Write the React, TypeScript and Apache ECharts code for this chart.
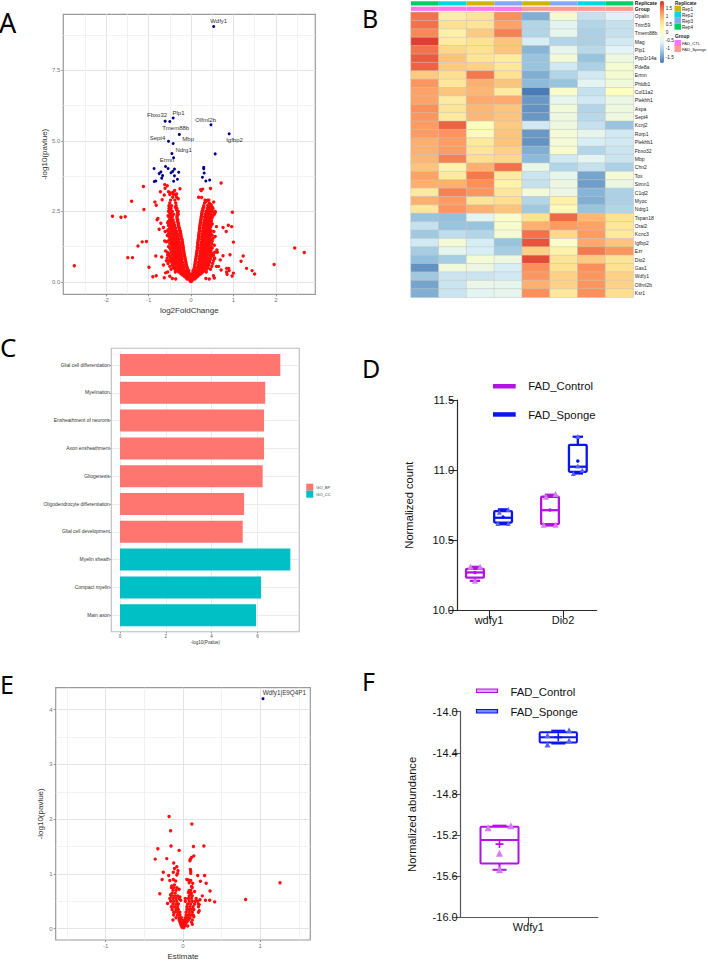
import React, { useEffect, useRef } from "react";
import * as echarts from "echarts";

const FONT = "Liberation Sans";

// ---------- Panel A: volcano ----------
const A_BLUE: [string, number, number][] = [
  ["Wdfy1", 0.535, 9.06], ["Igfbp2", 0.9, 5.25], ["Olfml2b", 0.47, 5.57], ["", 0.57, 4.54],
  ["Plp1", -0.42, 5.81], ["Fbxo32", -0.61, 5.7], ["", -0.5, 5.69], ["Tmem88b", -0.275, 5.23],
  ["Sept4", -0.53, 4.99], ["Mbp", -0.42, 4.91], ["Ndrg1", -0.45, 4.55], ["Ermn", -0.41, 4.4],
  ["", -0.87, 4.02], ["", -0.6, 4.09], ["", -0.54, 4.02], ["", -0.39, 4.0], ["", -0.43, 3.92],
  ["", -0.47, 3.87], ["", -0.29, 3.89], ["", -0.71, 3.9], ["", -0.75, 3.84], ["", -0.67, 3.77],
  ["", -0.69, 3.68], ["", -0.39, 3.76], ["", -0.32, 3.64], ["", -0.41, 3.57], ["", -0.83, 3.58],
  ["", -0.865, 3.56], ["", 0.3, 4.06], ["", 0.3, 4.01], ["", 0.31, 3.86], ["", 0.27, 3.71],
  ["", 0.35, 3.58], ["", 0.44, 3.61],
];
const A_LABEL_OFFSETS: Record<string, [number, number]> = {
  Wdfy1: [5, -5.3], Plp1: [5.3, -5.3], Fbxo32: [-8, -5.7], Olfml2b: [-5.3, -5], Tmem88b: [-3.7, -6.7],
  Sept4: [-11, -3.3], Mbp: [15, -4], Ndrg1: [11.7, -3.7], Ermn: [-6.7, 1.7], Igfbp2: [5.3, 6.3],
};
const A_RED_SPARSE: [number, number][] = [
  [-2.75, 0.57], [-1.85, 2.33], [-1.65, 2.29], [-1.55, 2.31], [-1.4, 2.86], [-1.12, 3.38], [-1.11, 2.57],
  [-1.25, 1.27], [-1.15, 1.42], [-1.05, 1.43], [-1.49, 0.86], [-1.38, 0.86], [-0.99, 0.52], [-0.9, 0.18],
  [-0.82, 0.22], [-0.83, 0.92], [-0.69, 0.88], [-0.65, 0.6], [-0.63, 0.15], [-0.85, 2.83], [-0.82, 2.72],
  [-0.8, 2.2], [-0.78, 2.25], [-0.71, 2.08], [-0.65, 1.93], [-0.75, 1.87], [-0.61, 1.79], [-0.72, 3.2],
  [-0.62, 3.45], [-0.56, 3.41], [-0.61, 3.32], [-0.68, 2.91], [-0.63, 3.08], [-0.53, 3.2], [-0.42, 3.18],
  [-0.48, 3.15], [-0.385, 3.24], [-0.26, 3.3], [-0.6, 1.1], [-0.62, 1.45], [-0.58, 1.42], [-0.55, 0.35],
  [-0.5, 0.2], [-0.44, 0.12], [-0.36, 0.1], [-0.58, 0.75], [-0.6, 0.32], [-0.3, 2.95], [-0.34, 3.12],
  [0.71, 3.51], [0.46, 3.31], [0.23, 3.27], [0.275, 3.29], [0.245, 3.24], [0.18, 3.0], [0.25, 2.99],
  [0.35, 2.85], [0.535, 2.83], [0.975, 2.47], [0.57, 2.46], [0.6, 1.96], [0.88, 2.01], [0.96, 1.96],
  [0.755, 1.93], [0.83, 1.79], [0.54, 1.79], [0.57, 1.61], [1.0, 1.41], [0.4, 1.43], [0.61, 1.13],
  [0.62, 1.05], [0.755, 0.93], [0.92, 0.96], [0.56, 0.84], [0.69, 0.78], [1.23, 0.92], [1.18, 0.73],
  [1.31, 0.48], [1.44, 0.4], [1.5, 0.28], [1.96, 0.62], [2.445, 1.2], [2.67, 1.04], [1.0, 0.31],
  [0.97, 0.21], [0.84, 0.48], [0.89, 0.48], [0.84, 0.35], [0.9, 0.4], [0.85, 0.27], [0.71, 0.42],
  [0.53, 0.22], [0.6, 0.55], [0.65, 0.55], [0.55, 0.14], [0.43, 0.1], [0.35, 0.12], [0.55, 1.3],
  [0.5, 2.6], [0.47, 2.75], [0.42, 2.9], [0.4, 2.72],
];
// rows of the dense V: first number is -log10(p), the others are fold changes at that height
const A_RED_LEFT_ROWS: number[][] = [
  [0.03, -0.01, -0.02, 0.01, 0.02], [0.1, -0.02, -0.05, -0.09], [0.2, -0.03, -0.07, -0.11, -0.16],
  [0.3, -0.04, -0.08, -0.13, -0.18, -0.24], [0.4, -0.05, -0.1, -0.15, -0.2, -0.26, -0.32],
  [0.5, -0.09, -0.16, -0.22, -0.28, -0.34, -0.42], [0.6, -0.11, -0.18, -0.24, -0.3, -0.36, -0.44],
  [0.7, -0.12, -0.2, -0.26, -0.32, -0.38, -0.46], [0.8, -0.14, -0.21, -0.27, -0.33, -0.39, -0.48],
  [0.9, -0.15, -0.22, -0.28, -0.34, -0.4, -0.5], [1.0, -0.16, -0.23, -0.29, -0.35, -0.41, -0.52],
  [1.1, -0.17, -0.24, -0.3, -0.36, -0.42], [1.2, -0.18, -0.25, -0.31, -0.37, -0.44, -0.5],
  [1.3, -0.19, -0.26, -0.32, -0.38, -0.46], [1.4, -0.2, -0.27, -0.33, -0.39, -0.47],
  [1.5, -0.21, -0.29, -0.35, -0.41, -0.5], [1.6, -0.23, -0.3, -0.36, -0.42, -0.52],
  [1.7, -0.24, -0.31, -0.37, -0.45, -0.53], [1.8, -0.25, -0.33, -0.39, -0.47, -0.55],
  [1.9, -0.27, -0.36, -0.44, -0.5], [2.0, -0.29, -0.38, -0.46, -0.53],
  [2.1, -0.3, -0.4, -0.48, -0.55], [2.2, -0.31, -0.42, -0.5], [2.3, -0.33, -0.44, -0.52],
  [2.4, -0.3, -0.41, -0.5], [2.5, -0.3, -0.44, -0.53], [2.6, -0.33, -0.47, -0.52],
  [2.7, -0.35, -0.46, -0.52], [2.8, -0.36, -0.5], [2.9, -0.38, -0.48], [3.0, -0.34, -0.43],
  [3.1, -0.36, -0.41, -0.5],
  [0.15, -0.03, -0.07, -0.12], [0.25, -0.04, -0.09, -0.15, -0.21], [0.35, -0.06, -0.11, -0.17, -0.23, -0.29, -0.37],
  [0.45, -0.08, -0.18, -0.24, -0.3, -0.38, -0.47], [0.55, -0.1, -0.2, -0.27, -0.33, -0.39, -0.5],
  [0.65, -0.12, -0.22, -0.29, -0.35, -0.42, -0.54], [0.75, -0.13, -0.23, -0.3, -0.36, -0.43, -0.52],
  [0.85, -0.14, -0.25, -0.31, -0.37, -0.45, -0.56], [0.95, -0.16, -0.26, -0.32, -0.38, -0.45, -0.55],
  [1.05, -0.17, -0.27, -0.33, -0.39, -0.47, -0.56], [1.15, -0.18, -0.27, -0.33, -0.39, -0.48],
  [1.25, -0.19, -0.28, -0.34, -0.41, -0.53], [1.35, -0.2, -0.29, -0.35, -0.43, -0.5],
  [1.45, -0.21, -0.3, -0.37, -0.44, -0.54], [1.55, -0.23, -0.32, -0.38, -0.46],
  [1.65, -0.24, -0.34, -0.4, -0.48, -0.56], [1.75, -0.25, -0.35, -0.42, -0.5],
  [1.85, -0.27, -0.38, -0.46, -0.54], [1.95, -0.29, -0.41, -0.48], [2.05, -0.3, -0.43, -0.5],
  [2.15, -0.32, -0.45, -0.53], [2.25, -0.33, -0.47], [2.35, -0.33, -0.46, -0.54],
  [2.45, -0.32, -0.48], [2.55, -0.34, -0.5], [2.65, -0.37, -0.5],
];
const A_RED_RIGHT_ROWS: number[][] = [
  [0.1, 0.02, 0.05, 0.09], [0.2, 0.03, 0.07, 0.11, 0.16], [0.3, 0.04, 0.08, 0.13, 0.18, 0.24],
  [0.4, 0.05, 0.09, 0.14, 0.19, 0.25, 0.31], [0.5, 0.08, 0.15, 0.21, 0.27, 0.33, 0.4],
  [0.6, 0.09, 0.17, 0.23, 0.29, 0.35, 0.42], [0.7, 0.1, 0.18, 0.24, 0.3, 0.36, 0.44],
  [0.8, 0.11, 0.19, 0.25, 0.31, 0.37, 0.46], [0.9, 0.12, 0.2, 0.26, 0.32, 0.38, 0.48],
  [1.0, 0.13, 0.21, 0.27, 0.33, 0.39, 0.5], [1.1, 0.14, 0.22, 0.28, 0.34, 0.4, 0.47],
  [1.2, 0.15, 0.22, 0.28, 0.34, 0.41, 0.5], [1.3, 0.16, 0.23, 0.29, 0.35, 0.42],
  [1.4, 0.16, 0.24, 0.3, 0.36, 0.44], [1.5, 0.17, 0.25, 0.31, 0.37, 0.46],
  [1.6, 0.18, 0.25, 0.31, 0.38, 0.45], [1.7, 0.19, 0.26, 0.32, 0.38, 0.47],
  [1.8, 0.2, 0.27, 0.33, 0.39, 0.48], [1.9, 0.2, 0.28, 0.34, 0.41],
  [2.0, 0.21, 0.29, 0.35, 0.42, 0.47], [2.1, 0.22, 0.3, 0.37, 0.44],
  [2.2, 0.23, 0.31, 0.38, 0.45], [2.3, 0.24, 0.32, 0.39, 0.46, 0.5],
  [2.4, 0.25, 0.33, 0.4, 0.47, 0.55], [2.5, 0.26, 0.35, 0.42, 0.5, 0.57],
  [2.6, 0.28, 0.38, 0.45, 0.52], [2.7, 0.3, 0.4, 0.48], [2.8, 0.32, 0.43], [2.9, 0.33, 0.39],
  [0.15, 0.03, 0.06, 0.12], [0.25, 0.04, 0.09, 0.15, 0.2], [0.35, 0.05, 0.11, 0.17, 0.22, 0.28, 0.36],
  [0.45, 0.07, 0.17, 0.23, 0.3, 0.37, 0.46], [0.55, 0.09, 0.19, 0.25, 0.32, 0.38, 0.49],
  [0.65, 0.1, 0.2, 0.27, 0.33, 0.4, 0.51], [0.75, 0.11, 0.21, 0.28, 0.34, 0.41, 0.53],
  [0.85, 0.12, 0.22, 0.29, 0.35, 0.43, 0.55], [0.95, 0.13, 0.23, 0.3, 0.36, 0.44, 0.53],
  [1.05, 0.14, 0.24, 0.31, 0.37, 0.45, 0.56], [1.15, 0.15, 0.25, 0.31, 0.38, 0.46],
  [1.25, 0.15, 0.26, 0.32, 0.39, 0.47], [1.35, 0.16, 0.27, 0.33, 0.4, 0.49],
  [1.45, 0.17, 0.28, 0.34, 0.41, 0.5], [1.55, 0.18, 0.28, 0.35, 0.42, 0.52],
  [1.65, 0.18, 0.29, 0.35, 0.42, 0.5], [1.75, 0.19, 0.3, 0.36, 0.44],
  [1.85, 0.2, 0.31, 0.38, 0.45], [1.95, 0.21, 0.32, 0.39, 0.46], [2.05, 0.22, 0.33, 0.4, 0.5],
  [2.15, 0.23, 0.34, 0.41, 0.48], [2.25, 0.24, 0.35, 0.42, 0.49], [2.35, 0.25, 0.37, 0.43, 0.52],
  [2.45, 0.26, 0.38, 0.45, 0.54], [2.55, 0.28, 0.4, 0.48], [2.65, 0.3, 0.43, 0.5],
];

// ---------- Panel B: heatmap ----------
const B_GENES = ["Opalin", "Trim59", "Tmem88b", "Mag", "Plp1", "Ppp1r14a", "Pde8a", "Ermn", "Phldb1", "Col11a2", "Plekhh1", "Aspa", "Sept4", "Kcnj2", "Rorp1", "Plekhb1", "Fbxo32", "Mbp", "Chn2", "Tox", "Stmn1", "C1ql2", "Myoc", "Ndrg1", "Tspan18", "Orai2", "Kcnc3", "Igfbp2", "Ezr", "Dio2", "Gas1", "Wdfy1", "Olfml2b", "Ksr1"];
const B_VALUES: number[][] = [
  [1.45, 0.35, 0.55, 1.25, -1.4, -0.2, -0.85, -0.65],
  [1.45, 0.6, 0.55, 1.1, -1.0, -0.55, -1.0, -0.85],
  [1.3, 0.3, 0.8, 1.35, -1.0, -0.5, -1.05, -0.85],
  [1.8, 0.4, 0.6, 0.85, -0.7, -1.0, -1.05, -0.75],
  [1.45, 0.7, 0.6, 0.85, -1.35, -0.5, -0.95, -0.6],
  [1.6, 0.85, 0.55, 0.4, -1.2, -0.25, -1.2, -0.35],
  [1.55, 0.8, 0.75, 0.5, -1.2, -0.75, -1.05, -0.2],
  [0.8, 0.65, 1.4, 0.6, -1.4, -1.0, -0.75, -0.2],
  [1.2, 0.5, 1.0, 0.85, -1.3, -1.2, -0.55, -0.3],
  [1.1, 0.85, 0.95, 0.4, -1.85, -0.15, -0.85, 0.0],
  [1.1, 0.4, 1.05, 1.05, -1.6, -0.5, -0.75, -0.4],
  [1.25, 0.55, 0.95, 0.85, -1.65, -0.3, -1.0, -0.35],
  [1.2, 0.45, 0.95, 0.85, -1.6, -0.35, -0.95, -0.35],
  [1.15, 1.55, 0.05, 0.8, -0.75, -0.35, -0.85, -1.2],
  [1.15, 1.2, 0.1, 0.85, -1.6, -0.25, -0.5, -0.75],
  [1.0, 1.15, 0.45, 0.85, -1.65, -0.25, -0.7, -0.75],
  [1.0, 1.15, 0.55, 0.75, -1.4, -0.15, -1.0, -0.8],
  [0.95, 1.35, 0.65, 0.7, -1.3, -0.75, -0.55, -0.8],
  [0.85, 0.25, 1.0, 1.45, -0.45, -1.0, -0.85, -1.05],
  [1.1, 0.45, 1.4, 0.4, -0.8, -0.5, -1.5, -0.25],
  [1.0, 1.0, 1.25, 0.25, -0.85, -0.4, -1.55, -0.4],
  [0.45, 1.35, 1.2, 0.5, -0.25, -0.4, -1.35, -1.05],
  [1.0, 1.15, 0.55, 0.65, -1.0, 0.3, -1.4, -1.05],
  [0.5, 1.2, 1.0, 0.85, -1.15, 0.1, -1.2, -1.0],
  [-1.2, -1.25, -0.55, -0.1, 0.6, 1.5, 0.95, 0.6],
  [-0.85, -1.2, -1.2, -0.15, 1.0, 1.15, 1.1, 0.5],
  [-1.15, -0.9, -1.0, -0.25, 1.45, 0.7, 1.15, 0.45],
  [-0.75, -0.25, -0.7, -1.2, 1.65, -0.1, 1.05, 0.85],
  [-1.1, -0.5, -0.7, -1.1, 0.75, 0.25, 1.4, 1.2],
  [-1.25, -1.1, -0.25, -0.35, 1.7, 0.55, 0.8, 0.55],
  [-1.65, -0.3, -0.4, -0.7, 1.25, 0.6, 1.25, 0.6],
  [-1.15, -0.8, -0.8, -0.75, 1.2, 0.75, 1.2, 0.75],
  [-1.5, -0.8, -0.45, -0.5, 1.0, 0.75, 1.2, 0.75],
  [-1.4, -0.8, -0.55, -0.5, 1.25, 0.5, 1.25, 0.65],
];
const B_COLUMNS = ["S1", "S2", "S3", "S4", "S5", "S6", "S7", "S8"];
const B_ANNOT_ROWS = ["Replicate", "Group"];
const REP_COLORS: Record<string, string> = { Rep1: "#CDB500", Rep2: "#00D8E0", Rep3: "#85A8F5", Rep4: "#00CF62" };
const GROUP_COLORS: Record<string, string> = { FAD_CTL: "#FF76F2", FAD_Sponge: "#FF9A8F" };
const B_REPLICATE = ["Rep4", "Rep2", "Rep1", "Rep3", "Rep1", "Rep3", "Rep2", "Rep4"];
const B_GROUP = ["FAD_CTL", "FAD_CTL", "FAD_CTL", "FAD_CTL", "FAD_Sponge", "FAD_Sponge", "FAD_Sponge", "FAD_Sponge"];
const B_SCALE_TICKS = [1.5, 1, 0.5, 0, -0.5, -1, -1.5];
const B_PALETTE = ["#4575B4", "#91BFDB", "#E0F3F8", "#FFFFBF", "#FEE090", "#FC8D59", "#D73027"];

// ---------- Panel C: GO terms ----------
const C_TERMS = ["Glial cell differentiation", "Myelination", "Ensheathment of neurons", "Axon ensheathment", "Gliogenesis", "Oligodendrocyte differentiation", "Glial cell development", "Myelin sheath", "Compact myelin", "Main axon"];
const C_BP = [7.0, 6.34, 6.29, 6.29, 6.23, 5.42, 5.36, null, null, null];
const C_CC = [null, null, null, null, null, null, null, 7.44, 6.16, 5.94];

// ---------- Panel D: boxes [x slot, min, q1, median, q3, max] ----------
const D_TICKS: Record<number, string> = { 1: "wdfy1", 2: "Dio2" };
const D_CONTROL_BOX = [[0.81, 10.21, 10.233, 10.27, 10.295, 10.31], [1.824, 10.605, 10.614, 10.714, 10.81, 10.824]];
const D_SPONGE_BOX = [[1.19, 10.614, 10.626, 10.66, 10.707, 10.72], [2.2, 10.976, 10.988, 11.024, 11.18, 11.238]];
const D_CONTROL_PTS = [[0.75, 10.31], [0.88, 10.31], [0.81, 10.21], [1.74, 10.61], [1.9, 10.61], [1.9, 10.83], [1.77, 10.81]];
const D_SPONGE_PTS = [[1.12, 10.62], [1.26, 10.62], [1.26, 10.72], [1.14, 10.7], [2.14, 10.975], [2.26, 11.0], [2.2, 11.03], [2.2, 11.24]];
const D_CONTROL_MEAN = [[0.81, 10.27], [1.824, 10.715]];
const D_SPONGE_MEAN = [[1.19, 10.665], [2.2, 11.065]];

// ---------- Panel E: volcano ----------
const E_BLUE: [string, number, number] = ["Wdfy1|E9Q4P1", 1.035, 4.2];
const E_RED_SPARSE: [number, number][] = [
  [1.255, 0.84], [0.81, 0.535], [-0.18, 2.05], [0.115, 1.91], [-0.16, 1.79], [-0.155, 1.51], [0.135, 1.5],
  [0.27, 1.51], [-0.325, 1.46], [-0.05, 1.43], [-0.36, 1.27], [-0.21, 1.28], [0.14, 1.33], [0.11, 1.3],
  [0.095, 1.27], [0.09, 1.24], [-0.12, 1.2], [-0.08, 1.13], [-0.11, 1.1], [-0.255, 1.03], [-0.065, 1.06],
  [-0.125, 1.03], [-0.07, 1.01], [0.095, 1.08], [0.1, 1.05], [0.1, 1.01], [-0.08, 0.98], [-0.185, 0.97],
  [0.19, 0.97], [0.28, 0.97], [-0.27, 0.9], [-0.125, 0.9], [-0.17, 0.88], [-0.095, 0.87], [0.05, 0.9],
  [0.07, 0.89], [0.1, 0.88], [0.225, 0.865], [0.3, 0.83], [0.08, 0.84], [0.125, 0.83], [0.11, 0.77],
  [0.35, 0.69], [-0.3, 0.64], [0.41, 0.49], [0.345, 0.52], [0.29, 0.52], [0.25, 0.6], [0.22, 0.53],
  [0.17, 0.55], [0.19, 0.5], [-0.145, 0.78], [0.15, 0.68], [0.09, 0.69], [0.07, 0.66], [0.1, 0.62],
  [-0.11, 0.8], [-0.05, 0.72], [-0.16, 0.62], [-0.04, 0.58], [-0.03, 0.52], [0.21, 0.33], [0.21, 0.44],
  [-0.2, 0.46], [-0.12, 0.3], [0.14, 0.22], [0.12, 0.08], [0.06, 0.05],
];
const E_RED_ROWS: number[][] = [
  [0.02, -0.01, 0.01], [0.05, -0.02, 0, 0.02], [0.08, -0.03, -0.01, 0.01, 0.03],
  [0.12, -0.04, -0.02, 0.01, 0.03, 0.05, 0.11], [0.16, -0.05, -0.02, 0.02, 0.04, 0.07, 0.12, -0.13],
  [0.2, -0.09, -0.05, -0.02, 0.03, 0.06, 0.09], [0.25, -0.12, -0.07, -0.04, 0.04, 0.07, 0.1, 0.13],
  [0.3, -0.11, -0.07, -0.04, 0.04, 0.08, 0.12, 0.2], [0.35, -0.14, -0.09, -0.06, 0.05, 0.08, 0.11, 0.14],
  [0.4, -0.15, -0.11, -0.07, 0.05, 0.09, 0.13, 0.2], [0.45, -0.13, -0.09, -0.06, 0.06, 0.1, 0.15, 0.2],
  [0.5, -0.16, -0.12, -0.08, 0.03, 0.08, 0.12, 0.16], [0.55, -0.17, -0.13, -0.09, -0.05, 0.07, 0.11, 0.03],
  [0.6, -0.15, -0.11, -0.07, 0.08, 0.12], [0.65, -0.14, -0.1, 0.09, 0.11], [0.7, -0.13, -0.09, 0.08, 0.1],
  [0.75, -0.15, -0.12, -0.08, 0.12],
];

// ---------- Panel F: boxes ----------
const F_TICKS: Record<number, string> = { 1: "Wdfy1" };
const F_CONTROL_BOX = [[0.52, -15.54, -15.48, -15.25, -15.12, -15.11]];
const F_SPONGE_BOX = [[1.5, -14.31, -14.3, -14.25, -14.2, -14.185]];
const F_CONTROL_PTS = [[0.33, -15.13], [0.71, -15.11], [0.52, -15.38], [0.52, -15.54]];
const F_SPONGE_PTS = [[1.32, -14.23], [1.68, -14.18], [1.32, -14.32], [1.68, -14.28]];
const F_CONTROL_MEAN = [[0.52, -15.29]];
const F_SPONGE_MEAN = [[1.5, -14.25]];

const PURPLE = "#B212E4";
const BLUE = "#0A14F2";
const RED = "#FF0D0D";
const NAVY = "#00008B";

const fromRows = (rows: number[][]) => rows.flatMap((r) => r.slice(1).map((x) => [x, r[0]]));

const boxRenderer = (halfW: number, capW: number, lw: number, color: string) => (_p: any, api: any) => {
  const x = api.value(0);
  const [mn, q1, med, q3, mx] = [1, 2, 3, 4, 5].map((i) => api.value(i));
  const c = (dx: number, v: number) => api.coord([x + dx, v]);
  const seg = (a: number[], b: number[]) => ({
    type: "line",
    shape: { x1: a[0], y1: a[1], x2: b[0], y2: b[1] },
    style: { stroke: color, lineWidth: lw, fill: "none" },
  });
  const tl = c(-halfW, q3);
  const br = c(halfW, q1);
  return {
    type: "group",
    children: [
      { type: "rect", shape: { x: tl[0], y: tl[1], width: br[0] - tl[0], height: br[1] - tl[1], r: 1 }, style: { stroke: color, lineWidth: lw, fill: "none" } },
      seg(c(-halfW, med), c(halfW, med)),
      seg(c(0, q3), c(0, mx)),
      seg(c(0, q1), c(0, mn)),
      seg(c(-capW, mx), c(capW, mx)),
      seg(c(-capW, mn), c(capW, mn)),
    ],
  };
};

const boxSeries = (name: string, data: number[][], xi: number, halfW: number, capW: number, lw: number, color: string) => ({
  type: "custom",
  name,
  xAxisIndex: xi,
  yAxisIndex: xi,
  data,
  clip: false,
  encode: { x: 0, y: [1, 2, 3, 4, 5] },
  renderItem: boxRenderer(halfW, capW, lw, color),
  silent: true,
});

const dots = (data: any[], xi: number, size: number, color: string, symbol = "circle", extra: any = {}) => ({
  type: "scatter",
  xAxisIndex: xi,
  yAxisIndex: xi,
  data,
  symbol,
  symbolSize: size,
  itemStyle: { color, opacity: 1 },
  silent: true,
  ...extra,
});

const minorGrid = (xs: number[], ys: number[]) => ({
  silent: true,
  symbol: "none",
  animation: false,
  label: { show: false },
  z: 0,
  lineStyle: { color: "#efefef", width: 0.8, type: "solid" },
  data: [...xs.map((v) => ({ xAxis: v })), ...ys.map((v) => ({ yAxis: v }))],
});

const ggX = (gridIndex: number, min: number, max: number, ticks: number[], name: string, nameGap: number) => ({
  type: "value", gridIndex, min, max, name, nameLocation: "middle", nameGap,
  nameTextStyle: { fontFamily: FONT, fontSize: 8, color: "#333" },
  axisLine: { show: false, onZero: false },
  axisTick: { show: true, length: 2, customValues: ticks, lineStyle: { color: "#666", width: 0.7 } },
  axisLabel: { fontFamily: FONT, fontSize: 6, color: "#777", margin: 3, customValues: ticks },
  splitLine: { show: true, lineStyle: { color: "#e4e4e4", width: 1 } },
});
const ggY = (gridIndex: number, min: number, max: number, ticks: number[], name: string, nameGap: number, fmt: (v: number) => string) => ({
  type: "value", gridIndex, min, max, name, nameLocation: "middle", nameRotate: 90, nameGap,
  nameTextStyle: { fontFamily: FONT, fontSize: 8, color: "#333" },
  axisLine: { show: false, onZero: false },
  axisTick: { show: true, length: 2, customValues: ticks, lineStyle: { color: "#666", width: 0.7 } },
  axisLabel: { fontFamily: FONT, fontSize: 6, color: "#777", margin: 3, customValues: ticks, formatter: fmt },
  splitLine: { show: true, lineStyle: { color: "#e4e4e4", width: 1 } },
});

const prismX = (gridIndex: number, min: number, max: number, ticks: Record<number, string>, axisColor: string) => {
  const vals = Object.keys(ticks).map(Number);
  return {
    type: "value", gridIndex, min, max,
    axisLine: { show: true, onZero: false, lineStyle: { color: axisColor, width: 1.2 } },
    axisTick: { show: true, length: 8, customValues: vals, lineStyle: { color: axisColor, width: 1.1 } },
    axisLabel: { fontFamily: FONT, fontSize: 11, color: "#111", margin: 4, customValues: vals, formatter: (v: number) => ticks[v] },
    splitLine: { show: false },
  };
};
const prismY = (gridIndex: number, min: number, max: number, interval: number, name: string, nameGap: number, axisColor: string) => ({
  type: "value", gridIndex, min, max, interval, name, nameLocation: "middle", nameRotate: 90, nameGap,
  nameTextStyle: { fontFamily: FONT, fontSize: 11.2, color: "#111" },
  axisLine: { show: true, onZero: false, lineStyle: { color: axisColor, width: 1.2 } },
  axisTick: { show: true, length: 8, lineStyle: { color: axisColor, width: 1.1 } },
  axisLabel: { fontFamily: FONT, fontSize: 11, color: "#111", margin: 3, formatter: (v: number) => v.toFixed(1) },
  splitLine: { show: false },
});

const txt = (text: string, x: number, y: number, fontSize: number, extra: any = {}) => ({
  type: "text",
  silent: true,
  style: { text, x, y, fontSize, fontFamily: FONT, fill: "#222", verticalAlign: "middle", align: "left", ...extra },
});
const swatch = (x: number, y: number, w: number, h: number, fill: string, stroke = "none", lineWidth = 0) => ({
  type: "rect", silent: true, shape: { x, y, width: w, height: h }, style: { fill, stroke, lineWidth },
});

export default function App() {
  const ref = useRef<HTMLDivElement>(null);
  useEffect(() => {
    document.body.style.margin = "0";
    const chart = echarts.init(ref.current!, undefined, { renderer: "svg" });

    const annotData = [
      ...B_REPLICATE.map((k, i) => ({ value: [i, 0], color: REP_COLORS[k] })),
      ...B_GROUP.map((k, i) => ({ value: [i, 1], color: GROUP_COLORS[k] })),
    ];
    const heatData = B_VALUES.flatMap((row, r) => row.map((v, c) => [c, r, v]));

    const series: any[] = [
      // A
      dots([...A_RED_SPARSE, ...fromRows(A_RED_LEFT_ROWS), ...fromRows(A_RED_RIGHT_ROWS)], 0, 3.4, RED, "circle", {
        name: "A red",
        markLine: minorGrid([-2.5, -1.5, -0.5, 0.5, 1.5, 2.5], [1.25, 3.75, 6.25, 8.75]),
      }),
      dots(
        A_BLUE.map(([n, x, y]) => ({
          name: n,
          value: [x, y],
          label: n
            ? { show: true, position: "inside", formatter: "{b}", offset: A_LABEL_OFFSETS[n], fontFamily: FONT, fontSize: 6, color: "#333" }
            : { show: false },
        })),
        0, 3, NAVY, "circle", { name: "A blue", z: 3 }
      ),
      // B
      {
        type: "heatmap", name: "Expression", xAxisIndex: 1, yAxisIndex: 1, data: heatData, silent: true,
        itemStyle: { borderColor: "#c4c4c4", borderWidth: 0.5 },
      },
      {
        type: "custom", name: "Annotation", xAxisIndex: 2, yAxisIndex: 2, data: annotData, silent: true,
        encode: { x: 0, y: 1 },
        renderItem: (p: any, api: any) => {
          const c = api.coord([api.value(0), api.value(1)]);
          const s = api.size([1, 1]);
          return {
            type: "rect",
            shape: { x: c[0] - s[0] / 2, y: c[1] - s[1] / 2 + 0.6, width: s[0], height: s[1] - 1.2 },
            style: { fill: annotData[p.dataIndex].color },
          };
        },
      },
      // C
      {
        type: "bar", name: "GO_BP", xAxisIndex: 3, yAxisIndex: 3, data: C_BP, barWidth: 22, barGap: "-100%",
        itemStyle: { color: "#FF7670" }, silent: true,
        markLine: {
          silent: true, symbol: "none", z: 0, label: { show: false },
          lineStyle: { color: "#e9e9e9", width: 0.9, type: "solid" },
          data: C_TERMS.map((t) => ({ yAxis: t })),
        },
      },
      { type: "bar", name: "GO_CC", xAxisIndex: 3, yAxisIndex: 3, data: C_CC, barWidth: 22, barGap: "-100%", itemStyle: { color: "#00C0C6" }, silent: true },
      // D
      dots(D_CONTROL_PTS, 4, 6, "#D47CF0", "triangle"),
      dots(D_SPONGE_PTS, 4, 5, "#5A62F5", "triangle"),
      boxSeries("FAD_Control", D_CONTROL_BOX, 4, 0.12, 0.07, 2.3, PURPLE),
      boxSeries("FAD_Sponge", D_SPONGE_BOX, 4, 0.12, 0.07, 2.3, BLUE),
      dots(D_CONTROL_MEAN, 4, 3.5, PURPLE),
      dots(D_SPONGE_MEAN, 4, 3.5, BLUE),
      // E
      dots([...E_RED_SPARSE, ...fromRows(E_RED_ROWS)], 5, 3.4, RED, "circle", {
        name: "E red",
        markLine: minorGrid([-1.5, -0.5, 0.5, 1.5], [0.5, 1.5, 2.5, 3.5]),
      }),
      dots(
        [{
          name: E_BLUE[0], value: [E_BLUE[1], E_BLUE[2]],
          label: { show: true, position: "inside", formatter: "{b}", offset: [21.3, -5.7], fontFamily: FONT, fontSize: 6.3, color: "#333" },
        }],
        5, 3, NAVY, "circle", { name: "E blue", z: 3 }
      ),
      // F
      dots(F_CONTROL_PTS, 6, 7, "#D47CF0", "triangle"),
      dots(F_SPONGE_PTS, 6, 6, "#5A62F5", "triangle"),
      boxSeries("FAD_Control", F_CONTROL_BOX, 6, 0.317, 0.117, 2, PURPLE),
      boxSeries("FAD_Sponge", F_SPONGE_BOX, 6, 0.31, 0.117, 2, BLUE),
      dots(F_CONTROL_MEAN, 6, 8, PURPLE, "path://M4 0h2v4h4v2h-4v4h-2v-4h-4v-2h4z"),
      dots(F_SPONGE_MEAN, 6, 8, BLUE, "path://M4 0h2v4h4v2h-4v4h-2v-4h-4v-2h4z"),
    ];
    const heatIdx = series.findIndex((s) => s.type === "heatmap");

    // colour-bar scale
    const cbY = (v: number) => 32.6 - v * 16.3;

    const option: any = {
      animation: false,
      backgroundColor: "#fff",
      textStyle: { fontFamily: FONT },
      tooltip: { show: false },
      legend: {
        data: ["GO_BP", "GO_CC"], orient: "vertical", left: 306.3, top: 483.7, padding: 0,
        itemWidth: 7, itemHeight: 7, itemGap: 0, icon: "rect", selectedMode: false,
        textStyle: { fontFamily: FONT, fontSize: 4, color: "#333", padding: [0, 0, 0, -2] },
      },
      visualMap: {
        type: "continuous", seriesIndex: heatIdx, min: -1.9, max: 1.9, left: 660, top: 1, padding: 0,
        itemWidth: 4, itemHeight: 62, calculable: false, realtime: false, hoverLink: false, text: null, inRange: { color: B_PALETTE },
        textStyle: { fontSize: 1, color: "transparent" },
      },
      grid: [
        { left: 63.3, top: 14.3, width: 252, height: 280, show: true, borderColor: "#9a9a9a", borderWidth: 1.2, backgroundColor: "transparent" },
        { left: 411, top: 12.3, width: 222.3, height: 285 },
        { left: 411, top: 0.7, width: 222.3, height: 10.8 },
        { left: 111.3, top: 351.1, width: 188, height: 278 },
        { left: 457, top: 400, width: 139.7, height: 210.3 },
        { left: 55.7, top: 687.7, width: 254.6, height: 252.3, show: true, borderColor: "#9a9a9a", borderWidth: 1.2, backgroundColor: "transparent" },
        { left: 460.7, top: 711.7, width: 137, height: 205.3 },
      ],
      xAxis: [
        ggX(0, -3.01, 2.93, [-2, -1, 0, 1, 2], "log2FoldChange", 12),
        { type: "category", gridIndex: 1, data: B_COLUMNS, axisLine: { show: false }, axisTick: { show: false }, axisLabel: { show: false } },
        { type: "category", gridIndex: 2, data: B_COLUMNS, axisLine: { show: false }, axisTick: { show: false }, axisLabel: { show: false } },
        {
          type: "value", gridIndex: 3, min: -0.38, max: 7.83, offset: 2.7, name: "-log10(Pvalue)", nameLocation: "middle", nameGap: 6.5,
          nameTextStyle: { fontFamily: FONT, fontSize: 4.5, color: "#333" },
          axisLine: { show: false, onZero: false },
          axisTick: { show: true, length: 1.5, customValues: [0, 2, 4, 6], lineStyle: { color: "#666", width: 0.6 } },
          axisLabel: { fontFamily: FONT, fontSize: 4.5, color: "#555", margin: 2, customValues: [0, 2, 4, 6] },
          splitLine: { show: true, lineStyle: { color: "#e9e9e9", width: 0.9 } },
        },
        prismX(4, 0.5676, 2.455, D_TICKS, "#2a2a2a"),
        ggX(5, -1.647, 1.647, [-1, 0, 1], "Estimate", 12),
        prismX(6, -0.127, 2.157, F_TICKS, "#555"),
      ],
      yAxis: [
        ggY(0, -0.44, 9.49, [0, 2.5, 5, 7.5], "-log10(pavlue)", 14, (v) => v.toFixed(1)),
        {
          type: "category", gridIndex: 1, data: B_GENES, inverse: true, position: "right",
          axisLine: { show: false }, axisTick: { show: false },
          axisLabel: { interval: 0, fontFamily: FONT, fontSize: 5, color: "#222", margin: 1.5 },
        },
        {
          type: "category", gridIndex: 2, data: B_ANNOT_ROWS, inverse: true, position: "right",
          axisLine: { show: false }, axisTick: { show: false },
          axisLabel: { interval: 0, fontFamily: FONT, fontSize: 5, fontWeight: "bold", color: "#222", margin: 1.5 },
        },
        {
          type: "category", gridIndex: 3, data: C_TERMS, inverse: true,
          axisLine: { show: false, onZero: false },
          axisTick: { show: true, length: 1.5, alignWithLabel: true, lineStyle: { color: "#666", width: 0.6 } },
          axisLabel: { interval: 0, fontFamily: FONT, fontSize: 4.9, color: "#333", margin: 1.5 },
          splitLine: { show: false },
        },
        prismY(4, 10, 11.5, 0.5, "Normalized count", 42.3, "#2a2a2a"),
        ggY(5, -0.206, 4.4, [0, 1, 2, 3, 4], "-log10(pavlue)", 11, (v) => String(v)),
        prismY(6, -16, -14, 0.4, "Normalized abundance", 43, "#555"),
      ],
      series,
      graphic: [
        // panel letters
        txt("A", -1, 22, 27, { fontFamily: "Noto Sans", fill: "#000" }),
        txt("B", 362, 18, 25, { fontFamily: "Noto Sans", fill: "#000" }),
        txt("C", 0, 347, 26, { fontFamily: "Noto Sans", fill: "#000" }),
        txt("D", 362, 368, 25, { fontFamily: "Noto Sans", fill: "#000" }),
        txt("E", 0, 684, 25, { fontFamily: "Noto Sans", fill: "#000" }),
        txt("F", 362, 681, 25, { fontFamily: "Noto Sans", fill: "#000" }),
        // panel C frame
        { type: "rect", silent: true, shape: { x: 111.3, y: 348.3, width: 188, height: 283.4 }, style: { fill: "none", stroke: "#bdbdbd", lineWidth: 1.1 } },
        // panel B scale and key
        ...B_SCALE_TICKS.map((v) => txt(String(v), 665.7, cbY(v), 4.7)),
        txt("Replicate", 675, 3, 4.8, { fontWeight: "bold" }),
        ...Object.keys(REP_COLORS).flatMap((k, i) => [
          swatch(674.5, 5.7 + i * 6, 6.5, 6, REP_COLORS[k]),
          txt(k, 682, 9 + i * 6, 4.6),
        ]),
        txt("Group", 675, 36.7, 4.8, { fontWeight: "bold" }),
        ...Object.keys(GROUP_COLORS).flatMap((k, i) => [
          swatch(674.5, 40 + i * 6, 6.5, 6, GROUP_COLORS[k]),
          txt(k, 682, 43.2 + i * 6, 4.1),
        ]),
        // panel D key
        swatch(493, 384, 22.7, 4.5, PURPLE),
        txt("FAD_Control", 528.3, 386.3, 11.3, { fill: "#111" }),
        swatch(493, 412.2, 22.7, 4.5, BLUE),
        txt("FAD_Sponge", 528.3, 414.5, 11.3, { fill: "#111" }),
        // panel F key
        swatch(476.5, 689, 21, 3.5, "#E2A6F7", PURPLE, 1.2),
        txt("FAD_Control", 510.5, 691.5, 11.3, { fill: "#111" }),
        swatch(476.5, 709.5, 21, 3.5, "#7F86FA", BLUE, 1.2),
        txt("FAD_Sponge", 510.5, 712, 11.3, { fill: "#111" }),
      ],
    };
    chart.setOption(option);
    return () => chart.dispose();
  }, []);
  return <div ref={ref} style={{ position: "absolute", left: 0, top: 0, width: 708, height: 961 }} />;
}
